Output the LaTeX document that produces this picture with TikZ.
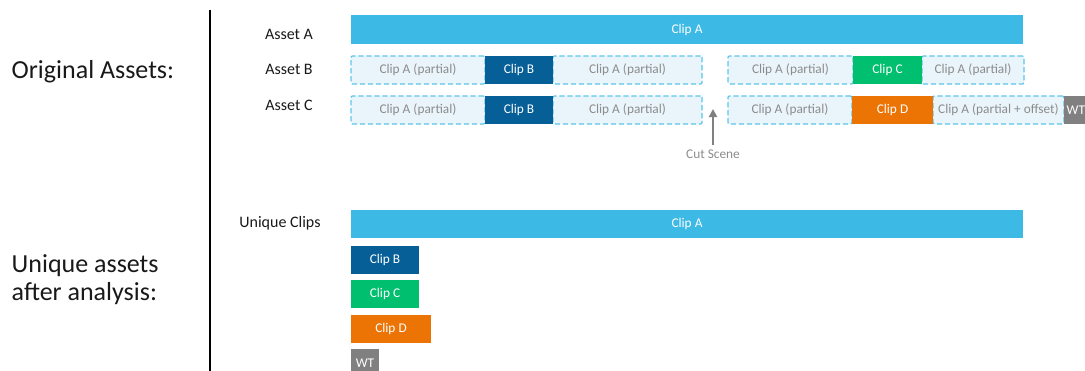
\documentclass[tikz,border=0pt]{standalone}
\usepackage{fontspec}
\setmainfont{Carlito}
\usetikzlibrary{arrows.meta}
\definecolor{clipa}{HTML}{3DB9E6}
\definecolor{clipb}{HTML}{075F97}
\definecolor{clipc}{HTML}{00BF6F}
\definecolor{clipd}{HTML}{EC7405}
\definecolor{clipwt}{HTML}{808080}
\definecolor{partfill}{HTML}{EAF5FB}
\definecolor{partline}{HTML}{5CC4EC}
\definecolor{parttext}{HTML}{8C8C8C}

\begin{document}
\begin{tikzpicture}[x=0.75pt, y=-0.75pt,
            clipbox/.style={anchor=north west, inner sep=0pt, outer sep=0pt, minimum height=21pt, text=white, font=\fontsize{10}{12}\selectfont},
            partbox/.style={anchor=north west, inner sep=0pt, outer sep=0pt, minimum height=21pt, fill=partfill, draw=partline, line width=0.9pt, dash pattern=on 4pt off 2pt, rounded corners=1pt, text=parttext, font=\fontsize{10}{12}\selectfont},
            rowlabel/.style={font=\fontsize{12}{14}\selectfont, text=black!90},
            sidelabel/.style={anchor=west, align=left, font=\fontsize{19.5}{21}\selectfont, text=black!90}
        ]
            \useasboundingbox (0,0) rectangle (1085,371);

            % Left side
            \node[sidelabel] (orig) at (7,72) {Original Assets:};
            \node[sidelabel] (uniq) at (7,280) {Unique assets\\after analysis:};
            \draw[line width=1pt] (210,10) -- (210,371);

            % Row labels
            \node[rowlabel] (la) at (289,34) {Asset A};
            \node[rowlabel] (lb) at (289,69) {Asset B};
            \node[rowlabel] (lc) at (289,105) {Asset C};
            \node[rowlabel] (lu) at (280,223) {Unique Clips};

            % Asset A
            \node[clipbox, fill=clipa, minimum width=504pt, minimum height=21.75pt] (a1) at (351,15) {Clip A};

            % Asset B
            \node[partbox, minimum width=100.5pt] (b1) at (351,56) {Clip A (partial)};
            \node[partbox, minimum width=111.75pt] (b3) at (553,56) {Clip A (partial)};
            \node[partbox, minimum width=93.75pt] (b4) at (728,56) {Clip A (partial)};
            \node[partbox, minimum width=76.5pt] (b6) at (922,56) {Clip A (partial)};
            \node[clipbox, fill=clipb, minimum width=51pt] (b2) at (485,56) {Clip B};
            \node[clipbox, fill=clipc, minimum width=51.75pt] (b5) at (853,56) {Clip C};

            % Asset C
            \node[partbox, minimum width=100.5pt] (c1) at (351,96) {Clip A (partial)};
            \node[partbox, minimum width=111.75pt] (c3) at (553,96) {Clip A (partial)};
            \node[partbox, minimum width=93pt] (c4) at (728,96) {Clip A (partial)};
            \node[partbox, minimum width=98.25pt] (c6) at (933,96) {Clip A (partial + offset)};
            \node[clipbox, fill=clipb, minimum width=51pt] (c2) at (485,96) {Clip B};
            \node[clipbox, fill=clipd, minimum width=60.75pt] (c5) at (852,96) {Clip D};
            \node[clipbox, fill=clipwt, minimum width=22.5pt, text width=22.5pt, align=left] (c7) at (1064,96) {\hspace{2pt}WT};

            % Cut scene marker
            \node[font=\fontsize{10}{12}\selectfont, text=parttext] (cut) at (713,154) {Cut Scene};
            \coordinate (cuttip) at (713,109);
            \draw[-{Triangle[length=6pt, width=6pt]}, line width=1.4pt, clipwt] (cut) -- (cuttip);

            % Unique clips
            \node[clipbox, fill=clipa, minimum width=504pt] (u1) at (351,210) {Clip A};
            \node[clipbox, fill=clipb, minimum width=51pt] (u2) at (351,246) {Clip B};
            \node[clipbox, fill=clipc, minimum width=51pt] (u3) at (351,280) {Clip C};
            \node[clipbox, fill=clipd, minimum width=60pt] (u4) at (351,315) {Clip D};
            \node[clipbox, fill=clipwt, minimum width=21pt] (u5) at (351,349) {WT};
        \end{tikzpicture}
\end{document}
